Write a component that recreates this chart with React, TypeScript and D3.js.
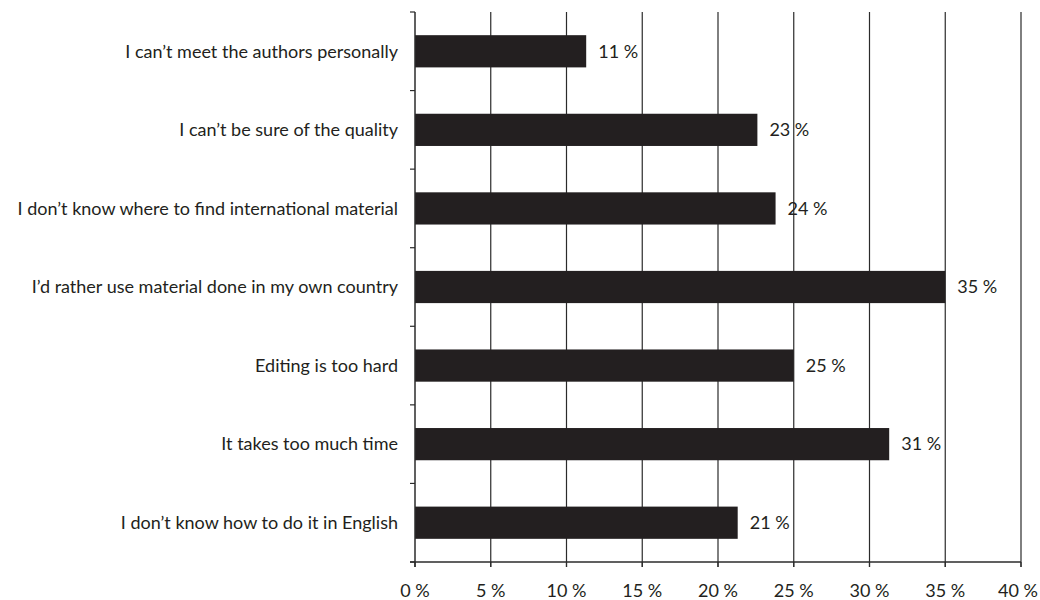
import React from "react";
import * as d3 from "d3";

const categories = [
  "I can\u2019t meet the authors personally",
  "I can\u2019t be sure of the quality",
  "I don\u2019t know where to find international material",
  "I\u2019d rather use material done in my own country",
  "Editing is too hard",
  "It takes too much time",
  "I don\u2019t know how to do it in English",
];
const values = [11.3, 22.6, 23.8, 35.0, 25.0, 31.3, 21.3];
const xTicks = [0, 5, 10, 15, 20, 25, 30, 35, 40];

const W = 1040;
const H = 600;
const M = { left: 415, right: 19, top: 12, bottom: 38 };
const FONT = "Lato, 'Open Sans', sans-serif";
const FS = 18;

export default function App() {
  const x = d3.scaleLinear().domain([0, 40]).range([M.left, W - M.right]);
  const y = d3
    .scaleBand<string>()
    .domain(categories)
    .range([M.top, H - M.bottom])
    .paddingInner(0.59)
    .paddingOuter(0.295);
  const y0 = M.top;
  const y1 = H - M.bottom;
  const boundaries = d3.range(categories.length + 1).map((i) => M.top + (i * (y1 - y0)) / categories.length);

  return (
    <div style={{ position: "absolute", left: 0, top: 0 }}>
      <svg width={W} height={H} style={{ display: "block", background: "#fff" }}>
        {/* gridlines */}
        {xTicks.slice(1).map((t) => (
          <line key={"g" + t} x1={x(t)} x2={x(t)} y1={y0} y2={y1 + 5} stroke="#2b2b2b" strokeWidth={1.2} />
        ))}
        {/* bars */}
        {categories.map((c, i) => (
          <rect key={c} x={x(0)} y={y(c)!} width={x(values[i]) - x(0)} height={y.bandwidth()} fill="#231f20" />
        ))}
        {/* left axis */}
        <line x1={x(0)} x2={x(0)} y1={y0} y2={y1 + 5} stroke="#2b2b2b" strokeWidth={1.5} />
        {boundaries.map((b, i) => (
          <line key={"yt" + i} x1={x(0) - 5} x2={x(0)} y1={b} y2={b} stroke="#2b2b2b" strokeWidth={1.2} />
        ))}
        {/* bottom axis */}
        <line x1={x(0) - 5} x2={x(40)} y1={y1} y2={y1} stroke="#2b2b2b" strokeWidth={1.5} />
        {xTicks.map((t) => (
          <g key={"xt" + t}>
            <line x1={x(t)} x2={x(t)} y1={y1} y2={y1 + 5} stroke="#2b2b2b" strokeWidth={1.2} />
            <text
              x={t === 40 ? W - 2 : x(t)}
              y={y1 + 35}
              textAnchor={t === 40 ? "end" : "middle"}
              fontFamily={FONT}
              fontSize={FS}
              fill="#231f20"
            >
              {t} %
            </text>
          </g>
        ))}
        {/* category labels */}
        {categories.map((c) => (
          <text
            key={"l" + c}
            x={398}
            y={y(c)! + y.bandwidth() / 2}
            dy="0.35em"
            textAnchor="end"
            fontFamily={FONT}
            fontSize={FS}
            fill="#231f20"
          >
            {c}
          </text>
        ))}
        {/* value labels */}
        {categories.map((c, i) => (
          <text
            key={"v" + c}
            x={x(values[i]) + 12}
            y={y(c)! + y.bandwidth() / 2}
            dy="0.35em"
            fontFamily={FONT}
            fontSize={FS}
            fill="#231f20"
          >
            {Math.round(values[i])} %
          </text>
        ))}
      </svg>
    </div>
  );
}
